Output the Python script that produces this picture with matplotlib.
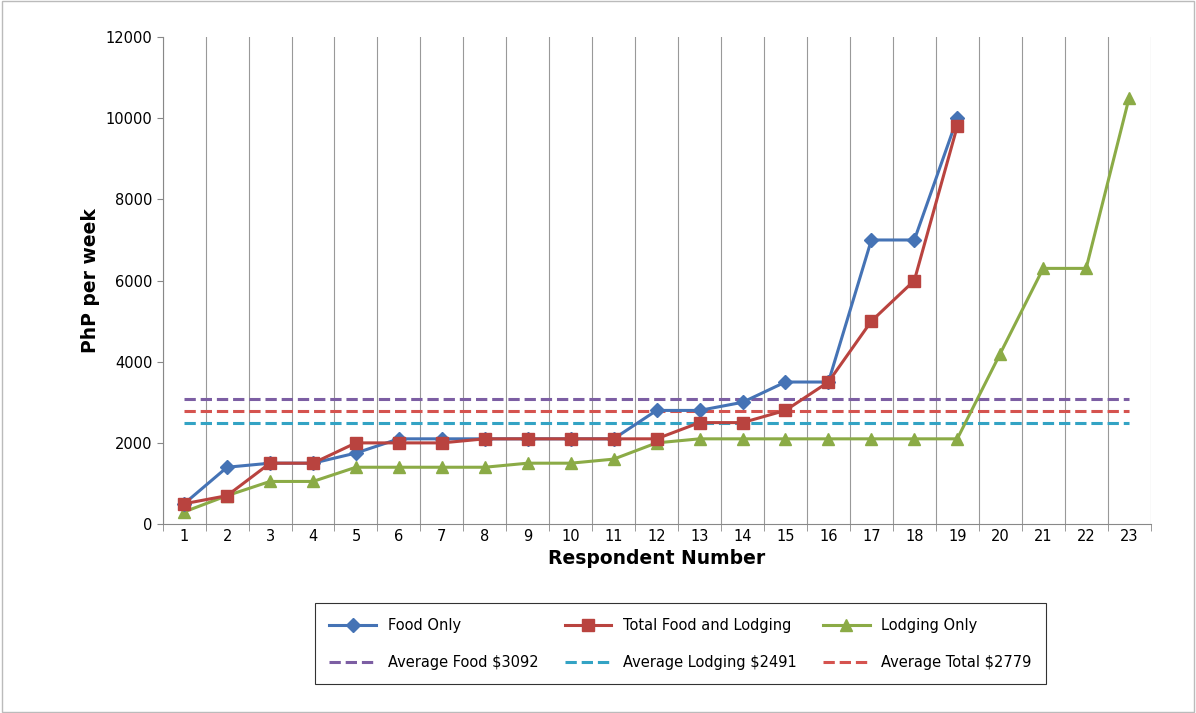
import numpy as np
from matplotlib import pyplot as plt

respondents = list(range(1, 24))
food_only = [500, 1400, 1500, 1500, 1750, 2100, 2100, 2100, 2100, 2100, 2100,
             2800, 2800, 3000, 3500, 3500, 7000, 7000, 10000]
total_food_lodging = [500, 700, 1500, 1500, 2000, 2000, 2000, 2100, 2100, 2100, 2100,
                      2100, 2500, 2500, 2800, 3500, 5000, 6000, 9800]
lodging_only = [300, 700, 1050, 1050, 1400, 1400, 1400, 1400, 1500, 1500, 1600,
                2000, 2100, 2100, 2100, 2100, 2100, 2100, 2100, 4200, 6300, 6300, 10500]
avg_food = 3092
avg_lodging = 2491
avg_total = 2779


def main():
    fig = plt.figure(figsize=(11.96, 7.13), dpi=100)
    ax = fig.add_axes([0.136, 0.265, 0.826, 0.683])
    blue, red, green = '#4573b5', '#b9433f', '#8bab46'

    h1, = ax.plot(respondents[:19], food_only, color=blue, lw=2.2, marker='D', ms=7, label='Food Only', zorder=4)
    h2, = ax.plot(respondents[:19], total_food_lodging, color=red, lw=2.2, marker='s', ms=8,
                  label='Total Food and Lodging', zorder=5)
    h3, = ax.plot(respondents, lodging_only, color=green, lw=2.2, marker='^', ms=9, label='Lodging Only', zorder=3)
    h4, = ax.plot(respondents, [avg_food] * 23, color='#7c5ea3', lw=2.2, ls='--', label='Average Food $3092')
    h5, = ax.plot(respondents, [avg_lodging] * 23, color='#33a3c4', lw=2.2, ls='--', label='Average Lodging $2491')
    h6, = ax.plot(respondents, [avg_total] * 23, color='#d5534f', lw=2.2, ls='--', label='Average Total $2779')

    ax.set_xlim(0.5, 23.5)
    ax.set_ylim(0, 12000)
    ax.set_yticks(np.arange(0, 12001, 2000))
    ax.set_xticks(respondents)
    ax.set_xticks(np.arange(0.5, 23.6, 1), minor=True)
    ax.grid(True, which='minor', axis='x', color='#999999', lw=0.8)
    ax.tick_params(which='major', axis='x', length=0)
    ax.tick_params(which='minor', axis='x', length=5, color='#888888')
    ax.tick_params(axis='y', length=4, color='#888888')
    ax.tick_params(labelsize=10.5)
    for side in ['top', 'right']:
        ax.spines[side].set_visible(False)
    for side in ['left', 'bottom']:
        ax.spines[side].set_color('#888888')
    ax.set_xlabel('Respondent Number', fontsize=13.5, fontweight='bold')
    ax.set_ylabel('PhP per week', fontsize=13.5, fontweight='bold')

    handles = [h1, h4, h2, h5, h3, h6]
    leg = fig.legend(handles, [h.get_label() for h in handles], loc='lower left',
                     bbox_to_anchor=(0.257, 0.03, 0.624, 0.133), mode='expand',
                     ncol=3, fontsize=10.5, frameon=True, fancybox=False, edgecolor='black',
                     handlelength=3.2, borderpad=1.0, labelspacing=1.5)
    leg.get_frame().set_linewidth(0.8)
    fig.patches.append(plt.Rectangle((0.002, 0.002), 0.996, 0.996, transform=fig.transFigure,
                                     fill=False, edgecolor='#bbbbbb', lw=1))
    fig.savefig('out.png')


if __name__ == '__main__':
    main()
